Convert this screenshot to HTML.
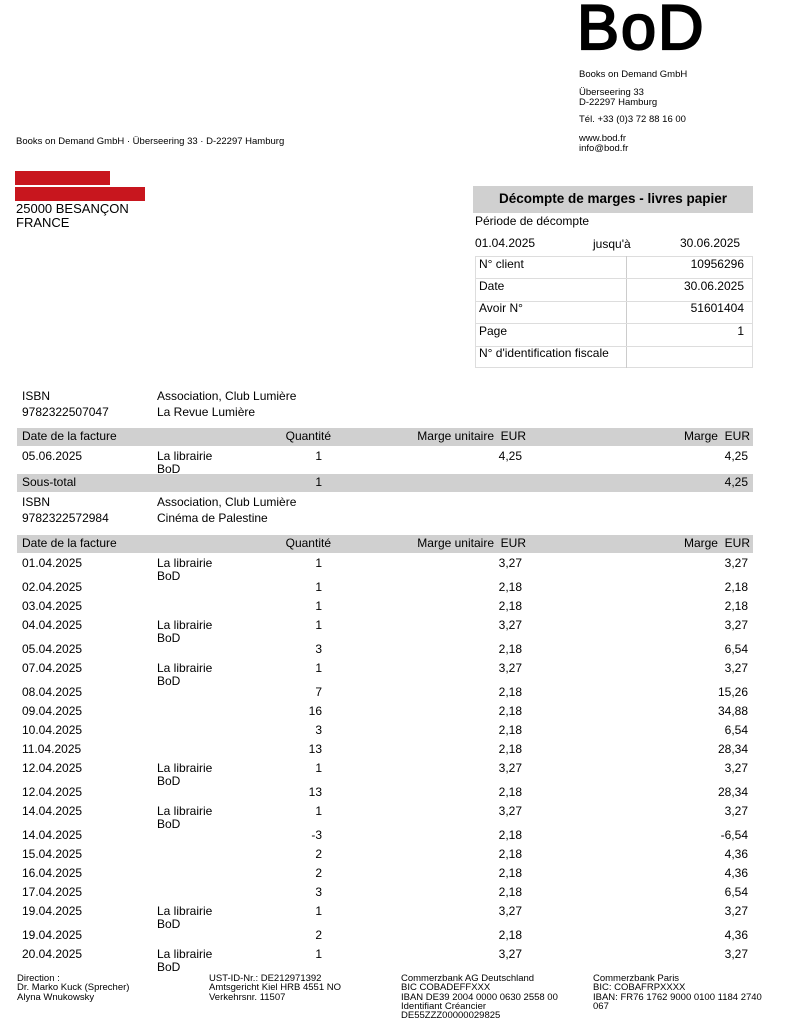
<!DOCTYPE html>
<html><head><meta charset="utf-8"><style>
body{margin:0;background:#fff;font-family:"Liberation Sans",Arial,sans-serif;color:#000}
#p{position:relative;width:786px;height:1024px;overflow:hidden}
.a{position:absolute;white-space:nowrap;font-size:12px;line-height:13px}
.r{text-align:right}
.s{font-size:9.5px;line-height:10px}
.bar{position:absolute;background:#d0d0d0}
.f{position:absolute;font-size:9.5px;line-height:9.3px;white-space:nowrap}
</style></head><body><div id="p">
<div class="a" style="left:577px;top:-3px;font-size:63px;line-height:63px;font-weight:normal;-webkit-text-stroke:2.2px #000;letter-spacing:2px">BoD</div>
<div class="a s" style="left:579px;top:70px">Books on Demand GmbH</div>
<div class="a s" style="left:579px;top:88px">Überseering 33<br>D-22297 Hamburg</div>
<div class="a s" style="left:579px;top:115px">Tél. +33 (0)3 72 88 16 00</div>
<div class="a s" style="left:579px;top:134px">www.bod.fr<br>info@bod.fr</div>
<div class="a s" style="left:16px;top:137px">Books on Demand GmbH · Überseering 33 · D-22297 Hamburg</div>
<div style="position:absolute;left:15px;top:171px;width:95px;height:14px;background:#c8161e"></div>
<div style="position:absolute;left:15px;top:187px;width:130px;height:14px;background:#c8161e"></div>
<div class="a" style="left:16px;top:202px;font-size:13px;line-height:14px">25000 BESANÇON<br>FRANCE</div>

<div class="bar" style="left:473px;top:186px;width:280px;height:27px"></div>
<div class="a" style="left:473px;top:191px;width:280px;text-align:center;font-weight:bold;font-size:13.5px;line-height:15px">Décompte de marges - livres papier</div>
<div class="a" style="left:475px;top:215px">Période de décompte</div>
<div class="a" style="left:475px;top:237px">01.04.2025</div>
<div class="a" style="left:593px;top:238px">jusqu'à</div>
<div class="a" style="left:680px;top:237px">30.06.2025</div>
<div style="position:absolute;left:475px;top:256px;width:278px;height:112px;border:1px solid #ddd;box-sizing:border-box"></div>
<div style="position:absolute;left:626px;top:256px;width:1px;height:112px;background:#ccc"></div>
<div style="position:absolute;left:475px;top:278px;width:278px;height:1px;background:#ddd"></div>
<div style="position:absolute;left:475px;top:301px;width:278px;height:1px;background:#ddd"></div>
<div style="position:absolute;left:475px;top:323px;width:278px;height:1px;background:#ddd"></div>
<div style="position:absolute;left:475px;top:346px;width:278px;height:1px;background:#ddd"></div>
<div class="a" style="left:479px;top:258px">N° client</div><div class="a r" style="right:42px;top:258px">10956296</div>
<div class="a" style="left:479px;top:280px">Date</div><div class="a r" style="right:42px;top:280px">30.06.2025</div>
<div class="a" style="left:479px;top:302px">Avoir N°</div><div class="a r" style="right:42px;top:302px">51601404</div>
<div class="a" style="left:479px;top:325px">Page</div><div class="a r" style="right:42px;top:325px">1</div>
<div class="a" style="left:479px;top:347px">N° d'identification fiscale</div>

<div class="a" style="left:22px;top:390px">ISBN<br><span style="position:relative;top:3px">9782322507047</span></div>
<div class="a" style="left:157px;top:390px">Association, Club Lumière<br><span style="position:relative;top:3px">La Revue Lumière</span></div>
<div class="bar" style="left:17px;top:428px;width:736px;height:18px"></div>
<div class="a" style="left:22px;top:430px">Date de la facture</div>
<div class="a r" style="right:455px;top:430px">Quantité</div>
<div class="a r" style="right:260px;top:430px">Marge unitaire&nbsp; EUR</div>
<div class="a r" style="right:36px;top:430px">Marge&nbsp; EUR</div>
<div class="a" style="left:22px;top:450px">05.06.2025</div>
<div class="a" style="left:157px;top:450px">La librairie<br>BoD</div>
<div class="a r" style="right:464px;top:450px">1</div>
<div class="a r" style="right:264px;top:450px">4,25</div>
<div class="a r" style="right:38px;top:450px">4,25</div>
<div class="bar" style="left:17px;top:474px;width:736px;height:18px"></div>
<div class="a" style="left:22px;top:476px">Sous-total</div>
<div class="a r" style="right:464px;top:476px">1</div>
<div class="a r" style="right:38px;top:476px">4,25</div>

<div class="a" style="left:22px;top:496px">ISBN<br><span style="position:relative;top:3px">9782322572984</span></div>
<div class="a" style="left:157px;top:496px">Association, Club Lumière<br><span style="position:relative;top:3px">Cinéma de Palestine</span></div>
<div class="bar" style="left:17px;top:535px;width:736px;height:18px"></div>
<div class="a" style="left:22px;top:537px">Date de la facture</div>
<div class="a r" style="right:455px;top:537px">Quantité</div>
<div class="a r" style="right:260px;top:537px">Marge unitaire&nbsp; EUR</div>
<div class="a r" style="right:36px;top:537px">Marge&nbsp; EUR</div>

<div id="rows"></div>
<script>
var d=[[557,"01.04.2025",1,"1","3,27","3,27"],[581,"02.04.2025",0,"1","2,18","2,18"],[600,"03.04.2025",0,"1","2,18","2,18"],[619,"04.04.2025",1,"1","3,27","3,27"],[643,"05.04.2025",0,"3","2,18","6,54"],[662,"07.04.2025",1,"1","3,27","3,27"],[686,"08.04.2025",0,"7","2,18","15,26"],[705,"09.04.2025",0,"16","2,18","34,88"],[724,"10.04.2025",0,"3","2,18","6,54"],[743,"11.04.2025",0,"13","2,18","28,34"],[762,"12.04.2025",1,"1","3,27","3,27"],[786,"12.04.2025",0,"13","2,18","28,34"],[805,"14.04.2025",1,"1","3,27","3,27"],[829,"14.04.2025",0,"-3","2,18","-6,54"],[848,"15.04.2025",0,"2","2,18","4,36"],[867,"16.04.2025",0,"2","2,18","4,36"],[886,"17.04.2025",0,"3","2,18","6,54"],[905,"19.04.2025",1,"1","3,27","3,27"],[929,"19.04.2025",0,"2","2,18","4,36"],[948,"20.04.2025",1,"1","3,27","3,27"]];
var h="";d.forEach(function(r){var t=r[0];h+='<div class="a" style="left:22px;top:'+t+'px">'+r[1]+'</div>';if(r[2])h+='<div class="a" style="left:157px;top:'+t+'px">La librairie<br>BoD</div>';h+='<div class="a r" style="right:464px;top:'+t+'px">'+r[3]+'</div><div class="a r" style="right:264px;top:'+t+'px">'+r[4]+'</div><div class="a r" style="right:38px;top:'+t+'px">'+r[5]+'</div>';});
document.getElementById("rows").innerHTML=h;
</script>

<div class="f" style="left:17px;top:974px">Direction :<br>Dr. Marko Kuck (Sprecher)<br>Alyna Wnukowsky</div>
<div class="f" style="left:209px;top:974px">UST-ID-Nr.: DE212971392<br>Amtsgericht Kiel HRB 4551 NO<br>Verkehrsnr. 11507</div>
<div class="f" style="left:401px;top:974px">Commerzbank AG Deutschland<br>BIC COBADEFFXXX<br>IBAN DE39 2004 0000 0630 2558 00<br>Identifiant Créancier<br>DE55ZZZ00000029825</div>
<div class="f" style="left:593px;top:974px">Commerzbank Paris<br>BIC: COBAFRPXXXX<br>IBAN: FR76 1762 9000 0100 1184 2740<br>067</div>
</div></body></html>
